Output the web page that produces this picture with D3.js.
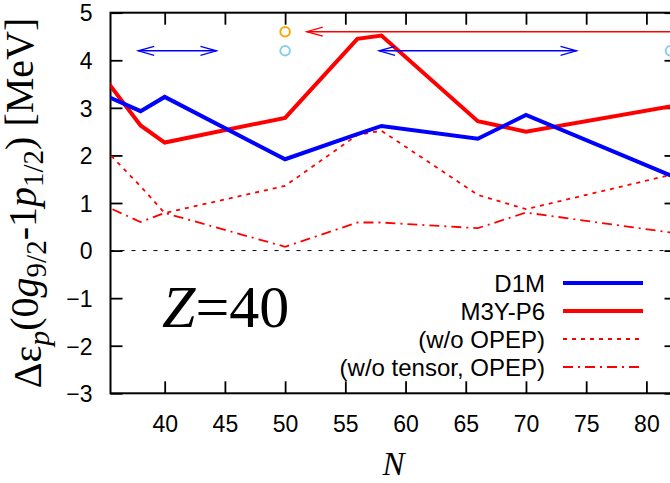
<!DOCTYPE html>
<html>
<head>
<meta charset="utf-8">
<script src="https://cdn.jsdelivr.net/npm/d3@7"></script>
<style>
  html, body { margin: 0; padding: 0; background: #fff; }
  svg { display: block; }
  .tick text { font-family: "Liberation Sans", Arial, sans-serif; font-size: 23px; fill: #000; }
  .tick line { stroke: #000; stroke-width: 1.8; }
</style>
</head>
<body>
<svg id="chart" width="670" height="483"></svg>
<script>
// Proton 0g9/2 - 1p1/2 gap for Z = 40 isotopes, plotted against neutron number N
const nD1M   = [34, 38, 40, 50, 56, 58, 66, 70, 82];
const vD1M   = [3.38, 2.93, 3.23, 1.92, 2.45, 2.62, 2.35, 2.85, 1.58];

const nM3Y   = [34, 38, 40, 50, 56, 58, 66, 70, 82];
const vM3Y   = [3.96, 2.63, 2.27, 2.79, 4.45, 4.52, 2.72, 2.50, 3.03];

const nNoOPEP = [34, 38, 40, 50, 56, 58, 66, 70, 82];
const vNoOPEP = [2.40, 1.35, 0.79, 1.36, 2.43, 2.52, 1.17, 0.87, 1.59];

const nNoTens = [34, 38, 40, 50, 56, 58, 66, 70, 82];
const vNoTens = [1.06, 0.60, 0.79, 0.08, 0.59, 0.59, 0.47, 0.80, 0.38];

// range markers at the top of the panel
const arrowFrom  = [37.8, 57.8, 51.8];
const arrowTo    = [44.3, 74.2, 86.0];
const arrowLevel = [4.2, 4.2, 4.6];
const arrowColor = ["#0000ff", "#0000ff", "#ff0000"];
const arrowHeads = ["both", "both", "start"];

const markN     = [50, 50, 82];
const markV     = [4.6, 4.2, 4.2];
const markColor = ["#ffa500", "#87ceeb", "#87ceeb"];

const xTicks = [40, 45, 50, 55, 60, 65, 70, 75, 80];
const yTicks = [-3, -2, -1, 0, 1, 2, 3, 4, 5];

const legendLabels = ["D1M", "M3Y-P6", "(w/o OPEP)", "(w/o tensor, OPEP)"];

const svg = d3.select("#chart");
const pLeft = 110.5, pRight = 676.5, pTop = 12.7, pBottom = 393.3;

const x = d3.scaleLinear().domain([35.5, 82.5]).range([pLeft, pRight]);
const y = d3.scaleLinear().domain([-3, 5]).range([pBottom, pTop]);

svg.append("defs").append("clipPath").attr("id", "plotclip")
  .append("rect").attr("x", pLeft).attr("y", pTop)
  .attr("width", pRight - pLeft).attr("height", pBottom - pTop);

// zero line
svg.append("line")
  .attr("x1", pLeft).attr("x2", pRight)
  .attr("y1", y(0)).attr("y2", y(0))
  .attr("stroke", "#000").attr("stroke-width", 1)
  .attr("stroke-dasharray", "4,7").attr("stroke-dashoffset", -10);

// axes with inward ticks on all four sides
const gx = svg.append("g").attr("transform", `translate(0,${pBottom})`)
  .call(d3.axisBottom(x).tickValues(xTicks).tickSize(-12).tickPadding(22).tickFormat(d3.format("d")));
const gxt = svg.append("g").attr("transform", `translate(0,${pTop})`)
  .call(d3.axisTop(x).tickValues(xTicks).tickSize(-12).tickFormat(""));
const gy = svg.append("g").attr("transform", `translate(${pLeft},0)`)
  .call(d3.axisLeft(y).tickValues(yTicks).tickSize(-12).tickPadding(18).tickFormat(d3.format("d")));
const gyr = svg.append("g").attr("transform", `translate(${pRight},0)`)
  .call(d3.axisRight(y).tickValues(yTicks).tickSize(-12).tickFormat(""));
[gx, gxt, gy, gyr].forEach(g => g.select(".domain").remove());
gy.selectAll(".tick text").attr("dy", "0.36em");

// frame
svg.append("rect")
  .attr("x", pLeft).attr("y", pTop)
  .attr("width", pRight - pLeft).attr("height", pBottom - pTop)
  .attr("fill", "none").attr("stroke", "#000").attr("stroke-width", 2);

const plot = svg.append("g").attr("clip-path", "url(#plotclip)");
const line = d3.line().x(d => x(d[0])).y(d => y(d[1]));

const series = [
  { n: nNoTens, v: vNoTens, color: "#ff0000", width: 1.8, dash: "10,5,2,5" },
  { n: nNoOPEP, v: vNoOPEP, color: "#ff0000", width: 1.8, dash: "4,5" },
  { n: nM3Y,    v: vM3Y,    color: "#ff0000", width: 4,   dash: null },
  { n: nD1M,    v: vD1M,    color: "#0000ff", width: 4,   dash: null }
];
series.forEach(s => {
  plot.append("path")
    .datum(s.n.map((n, i) => [n, s.v[i]]))
    .attr("d", line)
    .attr("fill", "none")
    .attr("stroke", s.color)
    .attr("stroke-width", s.width)
    .attr("stroke-linejoin", "miter")
    .attr("stroke-dasharray", s.dash);
});

// open-headed arrows
const headLen = 16, headHalf = 4.5;
arrowFrom.forEach((f, i) => {
  const x1 = x(f), x2 = x(arrowTo[i]), yy = y(arrowLevel[i]);
  const g = svg.append("g").attr("stroke", arrowColor[i]).attr("stroke-width", 1.3).attr("fill", "none");
  g.append("line").attr("x1", x1).attr("x2", x2).attr("y1", yy).attr("y2", yy);
  if (arrowHeads[i] === "both" || arrowHeads[i] === "start") {
    g.append("path").attr("d", `M${x1 + headLen},${yy - headHalf}L${x1},${yy}L${x1 + headLen},${yy + headHalf}`);
  }
  if (arrowHeads[i] === "both" || arrowHeads[i] === "end") {
    g.append("path").attr("d", `M${x2 - headLen},${yy - headHalf}L${x2},${yy}L${x2 - headLen},${yy + headHalf}`);
  }
});

// open circle markers
markN.forEach((n, i) => {
  svg.append("circle")
    .attr("cx", x(n)).attr("cy", y(markV[i])).attr("r", 4.8)
    .attr("fill", "none").attr("stroke", markColor[i]).attr("stroke-width", 2);
});

// legend
const legX = 545, legY0 = 283, legDY = 28;
legendLabels.forEach((lab, i) => {
  const s = series[3 - i];
  const yy = legY0 + i * legDY;
  svg.append("text")
    .attr("x", legX).attr("y", yy).attr("dy", "0.36em")
    .attr("text-anchor", "end")
    .style("font-family", '"Liberation Sans", Arial, sans-serif')
    .style("font-size", "24px")
    .text(lab);
  svg.append("line")
    .attr("x1", 563).attr("x2", 643).attr("y1", yy).attr("y2", yy)
    .attr("stroke", s.color).attr("stroke-width", s.width)
    .attr("stroke-dasharray", s.dash);
});

// Z = 40 annotation
const zt = svg.append("text")
  .attr("x", 162).attr("y", 327)
  .style("font-family", '"Liberation Serif", "Times New Roman", serif')
  .style("font-size", "60px");
zt.append("tspan").style("font-style", "italic").text("Z");
zt.append("tspan").text("=40");

// x axis title
svg.append("text")
  .attr("x", (pLeft + pRight) / 2).attr("y", 475)
  .attr("text-anchor", "middle")
  .style("font-family", '"Liberation Serif", "Times New Roman", serif')
  .style("font-size", "33px").style("font-style", "italic")
  .text("N");

// y axis title
const yl = svg.append("text")
  .attr("transform", `translate(41,${(pTop + pBottom) / 2}) rotate(-90)`)
  .attr("text-anchor", "middle")
  .style("font-family", '"Liberation Serif", "Times New Roman", serif')
  .style("font-size", "40px");
yl.append("tspan").text("Δε");
yl.append("tspan").attr("dy", "0.26em").style("font-size", "30px").style("font-style", "italic").text("p");
yl.append("tspan").attr("dy", "-0.26em").text("(0");
yl.append("tspan").style("font-style", "italic").text("g");
yl.append("tspan").attr("dy", "0.26em").style("font-size", "29px").text("9/2");
yl.append("tspan").attr("dy", "-0.26em").text("-1");
yl.append("tspan").style("font-style", "italic").text("p");
yl.append("tspan").attr("dy", "0.26em").style("font-size", "29px").text("1/2");
yl.append("tspan").attr("dy", "-0.26em").text(") [MeV]");
</script>
</body>
</html>
